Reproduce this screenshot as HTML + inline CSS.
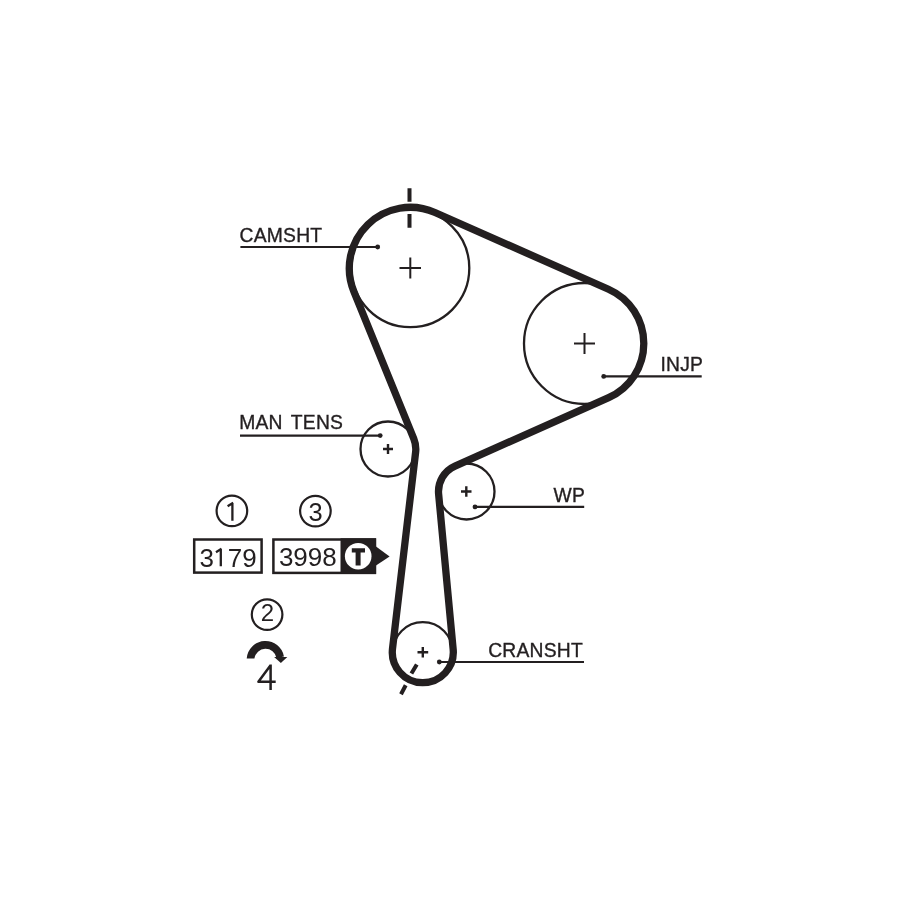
<!DOCTYPE html>
<html>
<head>
<meta charset="utf-8">
<style>
html,body{margin:0;padding:0;background:#fff;}
body{width:900px;height:900px;overflow:hidden;}
svg{display:block;will-change:transform;}
text{font-family:"Liberation Sans",sans-serif;fill:#231f20;}
.lb{stroke:#231f20;stroke-width:0.35;letter-spacing:0.22px;}
</style>
</head>
<body>
<svg width="900" height="900" viewBox="0 0 900 900">
<rect x="0" y="0" width="900" height="900" fill="#fff"/>
<g fill="none" stroke="#231f20">
  <!-- pulleys -->
  <circle cx="410.3" cy="268.1" r="59" stroke-width="2.3"/>
  <circle cx="584.5" cy="343.5" r="60.5" stroke-width="2.3"/>
  <circle cx="388" cy="449" r="27.5" stroke-width="2.3"/>
  <circle cx="466.5" cy="491.5" r="28" stroke-width="2.3"/>
  <circle cx="422.8" cy="652.2" r="30" stroke-width="2.3"/>
  <!-- belt -->
  <path stroke-width="7.3" stroke-linejoin="round" d="M353.80 291.30 A61.00 61.00 0 0 1 434.98 212.51 L608.49 289.27 A59.30 59.30 0 0 1 608.63 397.67 L454.99 466.11 A27.80 27.80 0 0 0 438.62 494.09 L453.17 649.36 A30.50 30.50 0 1 1 392.51 648.64 L415.61 452.25 A27.80 27.80 0 0 0 413.75 438.52 L353.80 291.30 Z"/>
  <!-- crosses -->
  <path stroke-width="2" d="M399.5 267.9H421M410.3 257.4V278.4"/>
  <path stroke-width="2" d="M574 343.5H595M584.5 333V354"/>
  <path stroke-width="2.4" d="M383 449H393M388 444V454"/>
  <path stroke-width="2.4" d="M461 491.5H471.5M466.3 486.3V496.7"/>
  <path stroke-width="2.4" d="M417.5 652.2H428.2M422.8 647V657.5"/>
  <!-- timing marks -->
  <path stroke-width="4" d="M409.5 188.3V201.7M409.5 214V227.7"/>
  <path stroke-width="4" d="M416.8 664.4L411.4 673.6M405.7 685.3L401 694.2"/>
  <!-- leader lines -->
  <path stroke-width="2.2" d="M240.4 247H377.7M240 435.6H380.2M603.7 376.4H701.7M475 506.9H584.2M439.3 662H584"/>
  <!-- numbered circles -->
  <circle cx="231.9" cy="510.9" r="15.3" stroke-width="2.2"/>
  <circle cx="315.4" cy="511.1" r="15.3" stroke-width="2.2"/>
  <circle cx="267.1" cy="614.6" r="15.3" stroke-width="2.2"/>
  <!-- boxes -->
  <rect x="194.2" y="539.5" width="67.4" height="33.1" stroke-width="2.5"/>
  <rect x="273.4" y="539.5" width="101.5" height="33.4" stroke-width="2.5"/>
</g>
<g fill="#231f20">
  <circle cx="377.7" cy="247" r="2.4"/>
  <circle cx="380.2" cy="435.6" r="2.4"/>
  <circle cx="603.7" cy="376.4" r="2.4"/>
  <circle cx="475" cy="506.9" r="2.4"/>
  <circle cx="439.3" cy="662" r="2.4"/>
  <rect x="340.5" y="538.3" width="35.6" height="35.6"/>
  <path d="M376 546.6L389.6 556.4L376 565.4Z"/>
</g>
<circle cx="358.2" cy="556.2" r="13.3" fill="#fff"/>
<path fill="#231f20" d="M351.8 548.2H365V552.6H360.6V565.4H355.6V552.6H351.8Z"/>
<!-- rotation arrow -->
<path fill="#231f20" d="M246.7 658.5 A18.8 18.8 0 0 1 283.95 656.4 L276.5 657.9 A11.2 11.2 0 0 0 254.4 658.5 Z"/>
<path fill="#231f20" d="M274.1 657.1L287.3 657L280.9 663Z"/>
<!-- labels -->
<text class="lb" x="239.6" y="241.8" font-size="19.3">CAMSHT</text>
<text class="lb" x="239.2" y="429.3" font-size="19.3" word-spacing="2.9">MAN TENS</text>
<text class="lb" x="703.2" y="370.6" font-size="19.3" text-anchor="end">INJP</text>
<text class="lb" x="585.1" y="501.9" font-size="19.3" text-anchor="end">WP</text>
<text class="lb" x="582.9" y="656.8" font-size="19.3" text-anchor="end">CRANSHT</text>
<path fill="none" stroke="#231f20" stroke-width="2.3" d="M232.4 520.8V503.2M233.2 502.8L227.6 506.2"/>
<text x="315.6" y="521" font-size="25.5" text-anchor="middle">3</text>
<text x="267.4" y="621.4" font-size="24" text-anchor="middle">2</text>
<text x="199.6" y="566.5" font-size="26">3</text>
<path fill="none" stroke="#231f20" stroke-width="2.3" d="M220.8 566.3V549M221.5 548.6L216 552.2"/>
<text x="227.7" y="566.5" font-size="26">79</text>
<text x="307.8" y="566.3" font-size="26" text-anchor="middle">3998</text>
<path fill="none" stroke="#231f20" stroke-width="2.5" stroke-linejoin="round" d="M270.6 665.3L258.4 681.7H275.7M270.6 664.5V690"/>
</svg>
</body>
</html>
